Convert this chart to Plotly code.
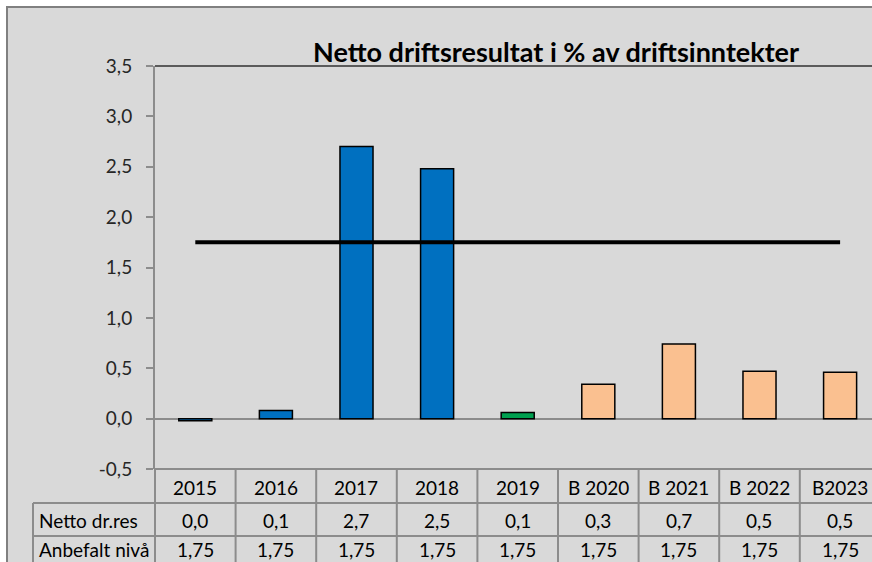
import plotly.graph_objects as go

# data
categories = ["2015", "2016", "2017", "2018", "2019",
              "B 2020", "B 2021", "B 2022", "B2023"]
netto_dr_res = [-0.02, 0.08, 2.70, 2.48, 0.06, 0.34, 0.74, 0.47, 0.46]
anbefalt_niva = [1.75, 1.75, 1.75, 1.75, 1.75, 1.75, 1.75, 1.75, 1.75]
bar_colors = ["#0070C0", "#0070C0", "#0070C0", "#0070C0", "#00A050",
              "#FAC090", "#FAC090", "#FAC090", "#FAC090"]
row_labels = ["Netto dr.res", "Anbefalt nivå"]
y_ticks = [-0.5, 0.0, 0.5, 1.0, 1.5, 2.0, 2.5, 3.0, 3.5]

title_text = "Netto driftsresultat i % av driftsinntekter"

W, H = 872, 562
M_L, M_R, M_T, M_B = 155, 0, 66, 93
PLOT_W = W - M_L - M_R
PLOT_H = H - M_T - M_B
CAT_W = 80.6
X_RANGE = [-0.5, -0.5 + PLOT_W / CAT_W]

FONT = "Lato, 'Open Sans', sans-serif"
GRID = "#8c8c8c"


def px_x(px):
    return (px - M_L) / PLOT_W


def px_y(py):
    return (H - M_B - py) / PLOT_H


def cat_x(pos):
    # category index -> paper x
    return (pos - X_RANGE[0]) / (X_RANGE[1] - X_RANGE[0])


def fmt(v, digits):
    v = round(v, digits) + 0.0
    return f"{v:.{digits}f}".replace(".", ",")


fig = go.Figure()

fig.add_trace(
    go.Bar(
        x=list(range(len(categories))),
        y=netto_dr_res,
        width=0.41,
        marker=dict(
            color=bar_colors,
            line=dict(color="black", width=1.5)
        ),
        name="Netto dr.res"
    )
)

fig.add_trace(
    go.Scatter(
        x=list(range(len(categories))),
        y=anbefalt_niva,
        mode="lines",
        line=dict(color="black", width=4),
        name="Anbefalt nivå"
    )
)

shapes = []

# chart area frame
shapes.append(dict(
    type="rect", xref="paper", yref="paper", layer="below",
    x0=px_x(7), x1=px_x(W + 10), y0=px_y(H + 10), y1=px_y(7),
    fillcolor="#d9d9d9", line=dict(color="#808080", width=2)
))

# top border of plot area
shapes.append(dict(
    type="line", xref="paper", yref="paper",
    x0=0, x1=1, y0=1, y1=1,
    line=dict(color="#303030", width=1.5)
))

# data table grid
row_lines = [469, 503, 536]
shapes.append(dict(
    type="line", xref="paper", yref="paper",
    x0=0, x1=1, y0=px_y(row_lines[0]), y1=px_y(row_lines[0]),
    line=dict(color=GRID, width=2)
))
for py in row_lines[1:]:
    shapes.append(dict(
        type="line", xref="paper", yref="paper",
        x0=px_x(33), x1=1, y0=px_y(py), y1=px_y(py),
        line=dict(color=GRID, width=2)
    ))
shapes.append(dict(
    type="line", xref="paper", yref="paper",
    x0=px_x(33), x1=px_x(33), y0=px_y(503), y1=px_y(H + 5),
    line=dict(color=GRID, width=2)
))
for k in range(len(categories)):
    xb = cat_x(k - 0.5)
    if xb <= 1:
        shapes.append(dict(
            type="line", xref="paper", yref="paper",
            x0=xb, x1=xb, y0=px_y(469), y1=px_y(H + 5),
            line=dict(color=GRID, width=2)
        ))

annotations = []

annotations.append(dict(
    text=f"<b>{title_text}</b>", xref="paper", yref="paper",
    x=px_x(556), y=px_y(52), xanchor="center", yanchor="middle",
    showarrow=False,
    font=dict(size=27, color="black", family=FONT)
))

row_centres = [487, 520, 549]
row_values = [
    categories,
    [fmt(v, 1) for v in netto_dr_res],
    [fmt(v, 2) for v in anbefalt_niva]
]
for r, values in enumerate(row_values):
    for i, txt in enumerate(values):
        annotations.append(dict(
            text=txt, xref="paper", yref="paper",
            x=cat_x(i), y=px_y(row_centres[r]),
            xanchor="center", yanchor="middle", showarrow=False,
            font=dict(size=19, color="black", family=FONT)
        ))

for r, label in enumerate(row_labels):
    annotations.append(dict(
        text=label, xref="paper", yref="paper",
        x=px_x(37), y=px_y(row_centres[r + 1]),
        xanchor="left", yanchor="middle", showarrow=False,
        font=dict(size=19, color="black", family=FONT)
    ))

fig.update_layout(
    width=W,
    height=H,
    margin=dict(l=M_L, r=M_R, t=M_T, b=M_B),
    paper_bgcolor="white",
    plot_bgcolor="#d9d9d9",
    showlegend=False,
    font=dict(family=FONT, size=19, color="#262626"),
    shapes=shapes,
    annotations=annotations,
    xaxis=dict(
        range=X_RANGE,
        showticklabels=False,
        showgrid=False,
        zeroline=False,
        showline=False,
        ticks=""
    ),
    yaxis=dict(
        range=[-0.5, 3.5],
        tickmode="array",
        tickvals=y_ticks,
        ticktext=[fmt(v, 1) for v in y_ticks],
        showgrid=False,
        zeroline=True,
        zerolinecolor="#8c8c8c",
        zerolinewidth=2,
        showline=True,
        linecolor="#8c8c8c",
        linewidth=2,
        ticks="outside",
        ticklen=7,
        tickwidth=2,
        tickcolor="#8c8c8c",
        ticklabelstandoff=10,
        tickfont=dict(size=19, color="#262626", family=FONT)
    )
)

fig.write_html(
    "out.html",
    config={"displayModeBar": False},
    post_script="document.body.style.margin='0';"
                "document.body.style.overflow='hidden';"
)
